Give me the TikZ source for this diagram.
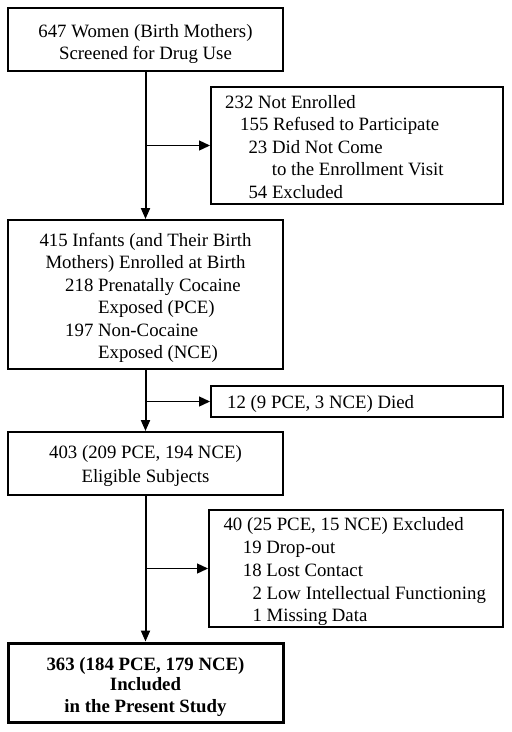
\documentclass[tikz,border=0pt]{standalone}
\usepackage{fontspec}
\setmainfont{Liberation Serif}
\usetikzlibrary{arrows.meta}
\begin{document}
\begin{tikzpicture}[x=1pt,y=-1pt,
  box/.style={draw, line width=2pt, inner sep=0pt},
  boldbox/.style={draw, line width=3pt, inner sep=0pt},
  txt/.style={font=\fontsize{18.8}{22.7}\selectfont, inner sep=0pt},
  ctr/.style={txt, anchor=base},
  lft/.style={txt, anchor=base west},
  bctr/.style={ctr, font=\fontsize{18.8}{22.7}\selectfont\bfseries},
  mainarrow/.style={line width=2pt, -{Triangle[length=11pt,width=9pt]}},
  sidearrow/.style={line width=1.3pt, -{Triangle[length=11pt,width=10pt]}}]
\useasboundingbox (0,0) rectangle (512,732);
% boxes
\node[box, minimum width=275pt, minimum height=63pt] (b1) at (145.5,39.5) {};
\node[box, minimum width=292pt, minimum height=117pt] (b2) at (357,145.5) {};
\node[box, minimum width=275pt, minimum height=149pt] (b3) at (145.5,294.5) {};
\node[box, minimum width=292pt, minimum height=31pt] (b4) at (357,401.5) {};
\node[box, minimum width=275pt, minimum height=63pt] (b5) at (145.5,463.5) {};
\node[box, minimum width=294pt, minimum height=117pt] (b6) at (356,568.5) {};
\node[boldbox, minimum width=275pt, minimum height=79pt] (b7) at (145.5,682.5) {};
% texts
\node[ctr] (t11) at (145.5,37) {647 Women (Birth Mothers)};
\node[ctr] (t12) at (145.5,59.5) {Screened for Drug Use};
\node[lft] (t21) at (225,108.3) {232 Not Enrolled};
\node[lft] (t22) at (240,130.8) {155 Refused to Participate};
\node[lft] (t23) at (248.3,153.3) {23 Did Not Come};
\node[lft] (t24) at (271.7,175.8) {to the Enrollment Visit};
\node[lft] (t25) at (248.3,198.5) {54 Excluded};
\node[ctr] (t31) at (145.5,246) {415 Infants (and Their Birth};
\node[ctr] (t32) at (145.5,268.5) {Mothers) Enrolled at Birth};
\node[lft] (t33) at (65,291) {218 Prenatally Cocaine};
\node[lft] (t34) at (98,313.5) {Exposed (PCE)};
\node[lft] (t35) at (65,336) {197 Non-Cocaine};
\node[lft] (t36) at (98,358.5) {Exposed (NCE)};
\node[lft] (t41) at (227,408.3) {12 (9 PCE, 3 NCE) Died};
\node[ctr] (t51) at (145.5,458.3) {403 (209 PCE, 194 NCE)};
\node[ctr] (t52) at (145.5,482.7) {Eligible Subjects};
\node[lft] (t61) at (223.3,530.7) {40 (25 PCE, 15 NCE) Excluded};
\node[lft] (t62) at (242.7,553.3) {19 Drop-out};
\node[lft] (t63) at (242.7,576.7) {18 Lost Contact};
\node[lft] (t64) at (252.3,599) {2 Low Intellectual Functioning};
\node[lft] (t65) at (252.3,621.7) {1 Missing Data};
\node[bctr] (t71) at (145.5,670) {363 (184 PCE, 179 NCE)};
\node[bctr] (t72) at (145.5,690.7) {Included};
\node[bctr] (t73) at (145.5,712.3) {in the Present Study};
% connectors
\draw[mainarrow] (b1.south) -- (b3.north);
\draw[mainarrow] (b3.south) -- (b5.north);
\draw[mainarrow] (b5.south) -- (b7.north);
\coordinate (j1) at (b1.south |- b2.west);
\coordinate (j2) at (b3.south |- b4.west);
\coordinate (j3) at (b5.south |- b6.west);
\draw[sidearrow] (j1) -- (b2.west);
\draw[sidearrow] (j2) -- (b4.west);
\draw[sidearrow] (j3) -- (b6.west);
\end{tikzpicture}
\end{document}
